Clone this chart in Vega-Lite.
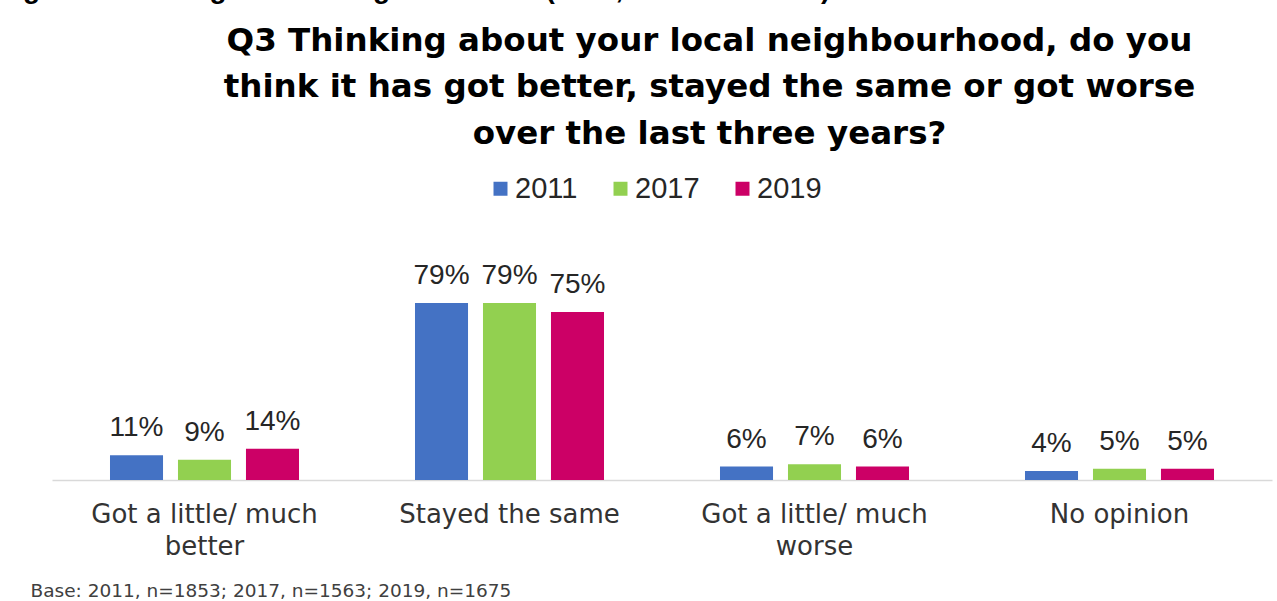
{
  "$schema": "https://vega.github.io/schema/vega-lite/v6.json",
  "autosize": {"type": "none"},
  "width": 1220,
  "height": 224,
  "padding": {"left": 52, "top": 256, "right": 5, "bottom": 121},
  "background": "white",
  "config": {
    "font": "Liberation Sans",
    "view": {"stroke": null}
  },
  "title": {
    "text": "Figure 53: Change in the neighbourhood (2011, 2017 and 2019)",
    "anchor": "start",
    "frame": "group",
    "dx": -54,
    "fontSize": 28,
    "fontWeight": "bold",
    "color": "#000000",
    "baseline": "alphabetic",
    "offset": -2
  },
  "data": {
    "values": [
      {"response": "Got a little/ much better", "year": "2011", "share": 0.11},
      {"response": "Got a little/ much better", "year": "2017", "share": 0.09},
      {"response": "Got a little/ much better", "year": "2019", "share": 0.14},
      {"response": "Stayed the same", "year": "2011", "share": 0.79},
      {"response": "Stayed the same", "year": "2017", "share": 0.79},
      {"response": "Stayed the same", "year": "2019", "share": 0.75},
      {"response": "Got a little/ much worse", "year": "2011", "share": 0.06},
      {"response": "Got a little/ much worse", "year": "2017", "share": 0.07},
      {"response": "Got a little/ much worse", "year": "2019", "share": 0.06},
      {"response": "No opinion", "year": "2011", "share": 0.04},
      {"response": "No opinion", "year": "2017", "share": 0.05},
      {"response": "No opinion", "year": "2019", "share": 0.05}
    ]
  },
  "encoding": {
    "x": {
      "field": "response",
      "type": "nominal",
      "sort": ["Got a little/ much better", "Stayed the same", "Got a little/ much worse", "No opinion"],
      "scale": {"paddingInner": 0, "paddingOuter": 0},
      "axis": {
        "labelAngle": 0,
        "labelFont": "DejaVu Sans",
        "labelFontSize": 26,
        "labelColor": "#333333",
        "labelPadding": 21,
        "labelLineHeight": 32,
        "labelLimit": 0,
        "labelExpr": "datum.value == 'Got a little/ much better' ? ['Got a little/ much', 'better'] : datum.value == 'Got a little/ much worse' ? ['Got a little/ much', 'worse'] : datum.value",
        "ticks": false,
        "domainColor": "#D9D9D9",
        "domainWidth": 1.5,
        "grid": false,
        "title": "Base: 2011, n=1853; 2017, n=1563; 2019, n=1675",
        "titleFont": "DejaVu Sans",
        "titleFontSize": 18.5,
        "titleFontWeight": "normal",
        "titleColor": "#404040",
        "titleAlign": "left",
        "titleBaseline": "alphabetic",
        "titleAngle": 0,
        "titleLimit": 0,
        "titleX": -22,
        "titleY": 116
      }
    },
    "xOffset": {
      "field": "year",
      "type": "nominal",
      "scale": {"paddingInner": 0.22, "paddingOuter": 0.853}
    },
    "y": {
      "field": "share",
      "type": "quantitative",
      "scale": {"domain": [0, 1]},
      "axis": {
        "domain": false,
        "ticks": false,
        "labels": false,
        "grid": false,
        "title": ["Q3 Thinking about your local neighbourhood,  do you", "think it has got better, stayed the same or got worse", "over the last three years?"],
        "titleFont": "DejaVu Sans",
        "titleFontSize": 32.5,
        "titleFontWeight": "bold",
        "titleColor": "#000000",
        "titleLineHeight": 46.5,
        "titleLimit": 0,
        "titleAngle": 0,
        "titleAlign": "center",
        "titleBaseline": "alphabetic",
        "titleX": 657,
        "titleY": -206
      }
    }
  },
  "layer": [
    {
      "mark": {"type": "bar"},
      "encoding": {
        "color": {
          "field": "year",
          "type": "nominal",
          "scale": {"domain": ["2011", "2017", "2019"], "range": ["#4472C4", "#92D050", "#CC0066"]},
          "legend": {
            "orient": "none",
            "legendX": 434,
            "legendY": -82,
            "direction": "horizontal",
            "title": null,
            "symbolType": "square",
            "symbolSize": 196,
            "symbolStrokeWidth": 0,
            "labelFontSize": 29,
            "labelColor": "#262626",
            "labelOffset": 0,
            "columnPadding": 28,
            "padding": 0
          }
        }
      }
    },
    {
      "mark": {"type": "text", "baseline": "alphabetic", "dy": -19, "fontSize": 28, "color": "#262626"},
      "encoding": {
        "text": {"field": "share", "type": "quantitative", "format": ".0%"}
      }
    }
  ]
}
